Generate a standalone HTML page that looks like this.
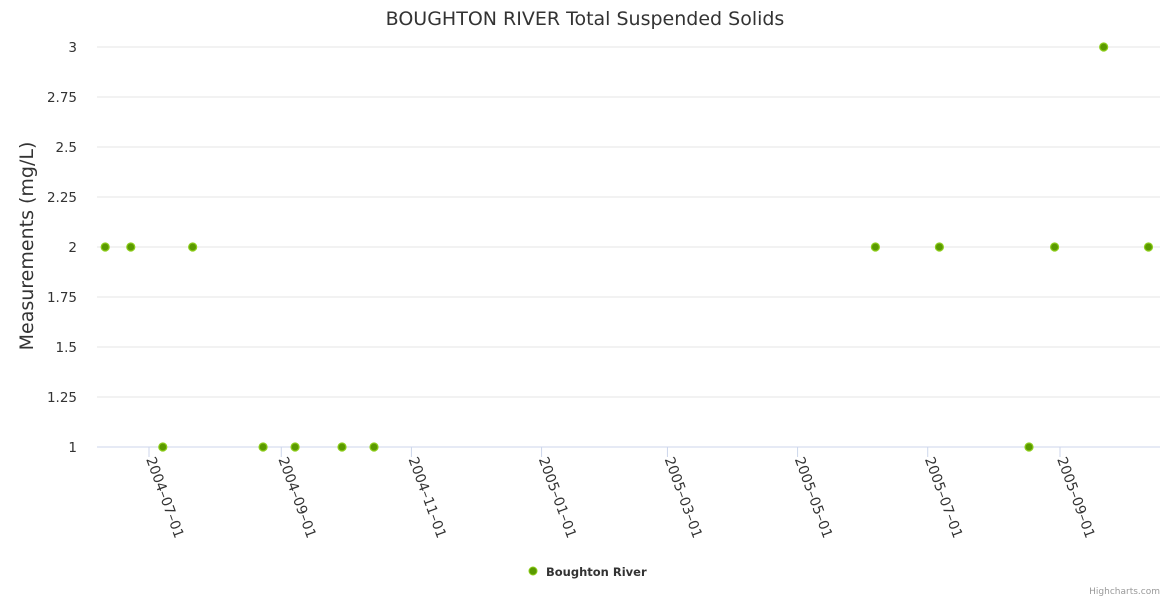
<!DOCTYPE html>
<html><head><meta charset="utf-8"><style>
body{margin:0;background:#fff;font-family:"DejaVu Sans","Liberation Sans",sans-serif}
</style></head><body>
<svg id="chart" width="1170" height="600" xmlns="http://www.w3.org/2000/svg" font-family="DejaVu Sans, Liberation Sans, sans-serif">
<rect width="1170" height="600" fill="#fff"/>
<text x="585" y="25" text-anchor="middle" font-size="19" fill="#333">BOUGHTON RIVER Total Suspended Solids</text>
<text transform="translate(33,246) rotate(-90)" text-anchor="middle" font-size="19" fill="#333">Measurements (mg/L)</text>
<g id="grid"></g><g id="yt"></g><g id="xt"></g><g id="pts"></g>
<g>
<circle cx="533" cy="571" r="4" fill="#5a9a00" stroke="#8ccc1a"/>
<text x="546" y="576" font-size="11.5" font-weight="bold" fill="#333">Boughton River</text></g>
<text x="1160" y="594" text-anchor="end" font-size="9" fill="#999">Highcharts.com</text>
</svg>
<script>
const dates=["2004-06-10","2004-06-22","2004-07-07","2004-07-21","2004-08-23","2004-09-07","2004-09-29","2004-10-14","2005-06-06","2005-07-06","2005-08-17","2005-08-29","2005-09-21","2005-10-12"];
const values=[2,2,1,2,1,1,1,1,2,2,1,2,3,2];
const yTicks=[1,1.25,1.5,1.75,2,2.25,2.5,2.75,3];
const xTicks=["2004-07-01","2004-09-01","2004-11-01","2005-01-01","2005-03-01","2005-05-01","2005-07-01","2005-09-01"];
const NS="http://www.w3.org/2000/svg";
const day=s=>Date.parse(s+"T00:00:00Z")/864e5;
const t0=day("2004-07-01");
const X=s=>150+(day(s)-t0)*2.1335;
const Y=v=>447-(v-1)*200;
function mk(tag,attrs,parent,txt){const e=document.createElementNS(NS,tag);for(const k in attrs)e.setAttribute(k,attrs[k]);if(txt!=null)e.textContent=txt;document.getElementById(parent).appendChild(e);return e;}
yTicks.forEach(v=>{
 const l=mk("line",{x1:97,x2:1160,y1:Y(v),y2:Y(v),stroke:v===1?"#ccd6eb":"#e6e6e6"},"grid");
 
 
 const t=mk("text",{x:77,y:Y(v)+5,"text-anchor":"end","font-size":"13.5",fill:"#333"},"yt",String(v));
 
 
});
xTicks.forEach(s=>{
 const x=X(s)-1;
 const l=mk("line",{x1:x,x2:x,y1:447,y2:457,stroke:"#ccd6eb"},"xt");
 
 
 const t=mk("text",{transform:`translate(${x-3},459) rotate(70)`,"font-size":"14",fill:"#333"},"xt",s.replace(/-/g,"\u2013"));
 
 
});
dates.forEach((d,i)=>{
 const c=mk("circle",{cx:X(d),cy:Y(values[i]),r:4,fill:"#5a9a00",stroke:"#8ccc1a","stroke-width":1.2},"pts");
 
 
});
</script>
</body></html>
